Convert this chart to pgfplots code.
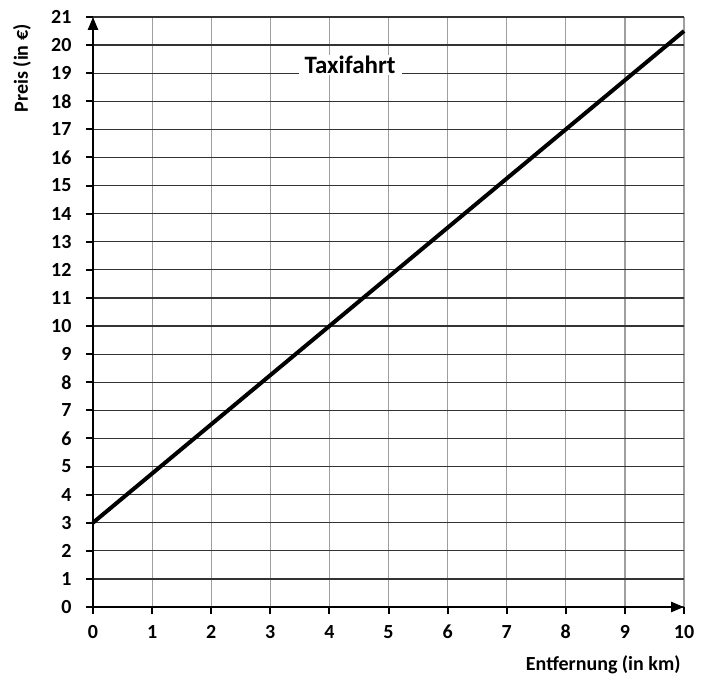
\documentclass[border=0pt]{standalone}
\usepackage{pgfplots}
\pgfplotsset{compat=1.18}
\usepackage{fontspec}
\setmainfont{Carlito}
\usetikzlibrary{arrows.meta}

\begin{document}
\begin{tikzpicture}
\begin{axis}[
    at={(0,0)}, anchor=south west,
    scale only axis,
    width=591pt, height=590pt,
    xmin=0, xmax=10, ymin=0, ymax=21,
    axis lines=left,
    axis line style={line width=2.5pt, -{Triangle[length=13pt,width=10pt]}},
    xtick={0,...,10}, ytick={0,...,21},
    grid=major,
    x grid style={gray!75, line width=1.2pt},
    y grid style={black!80, line width=1.2pt},
    tick align=outside,
    major tick length=7pt,
    tick style={black, line width=2pt},
    ticklabel style={font=\fontsize{20}{22}\selectfont\bfseries},
    /pgf/number format/assume math mode=true,
    yticklabel style={xshift=-11pt},
    xticklabel style={text height=13pt, text depth=0pt, yshift=-8pt},
    xlabel={Entfernung (in km)},
    ylabel={Preis (in €)},
    label style={font=\fontsize{20}{22}\selectfont\bfseries},
    xlabel style={at={(rel axis cs:1,0)}, anchor=east, yshift=-58pt},
    ylabel style={at={(rel axis cs:0,0.913)}, anchor=center, yshift=71pt},
    clip=false,
]
\addplot[black, line width=4pt] coordinates {(0,3) (10,20.5)};
\node[fill=white, inner xsep=6pt, inner ysep=1pt, font=\fontsize{25}{27}\selectfont\bfseries]
    at (axis cs:4.35,19.3) {Taxifahrt};
\end{axis}
\pgfresetboundingbox
\path (-93pt,-72pt) rectangle (613pt,607pt);
\end{tikzpicture}
\end{document}
